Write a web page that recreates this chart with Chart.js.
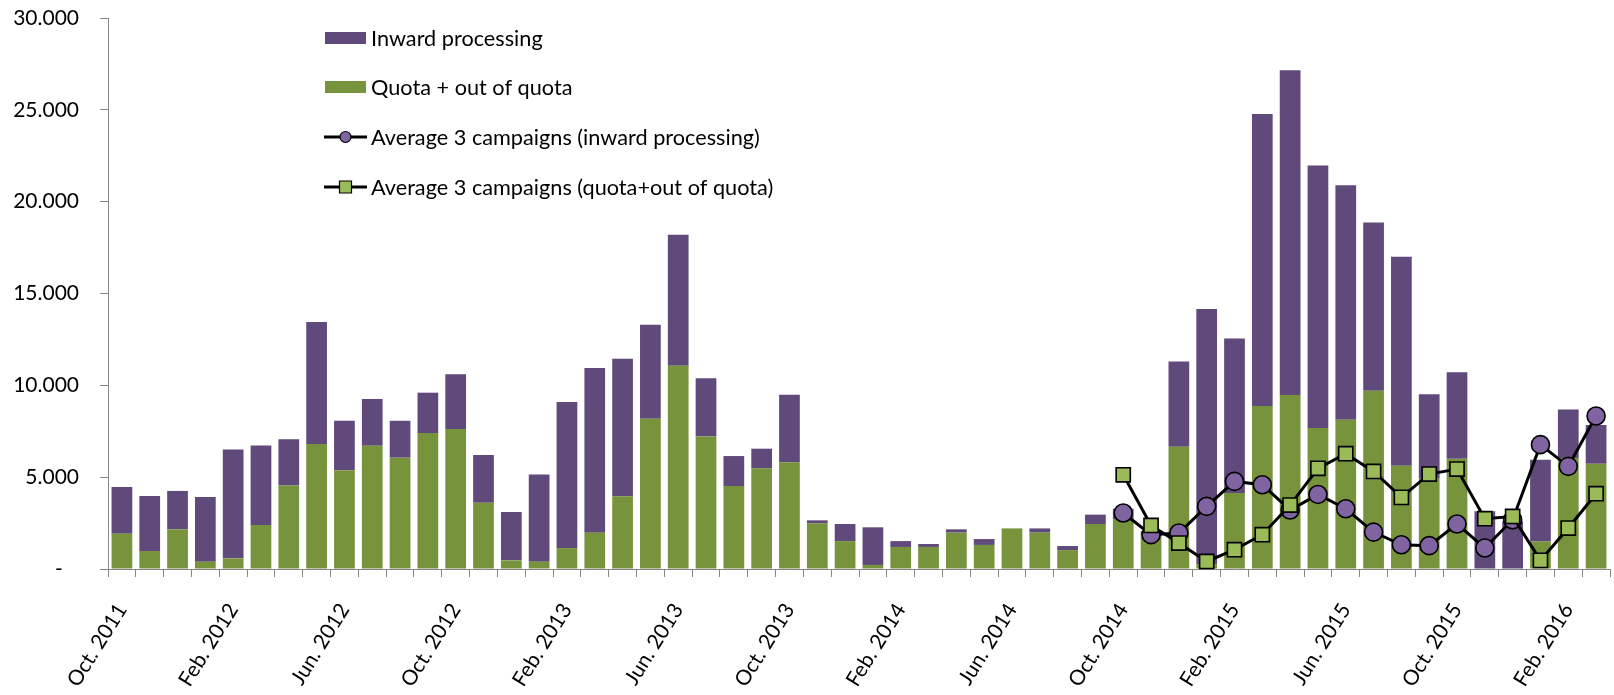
<!DOCTYPE html>
<html>
<head>
<meta charset="utf-8">
<script src="https://cdn.jsdelivr.net/npm/chart.js@4/dist/chart.umd.min.js"></script>
<style>
  html, body { margin: 0; padding: 0; background: #ffffff; }
  #wrap { width: 1614px; height: 695px; }
</style>
</head>
<body>
<div id="wrap"><canvas id="c" width="1614" height="695"></canvas></div>
<script>
// ---- Data ----
const categories = [
  "Oct. 2011","Nov. 2011","Dec. 2011",
  "Jan. 2012","Feb. 2012","Mar. 2012","Apr. 2012","May. 2012","Jun. 2012","Jul. 2012","Aug. 2012","Sep. 2012","Oct. 2012","Nov. 2012","Dec. 2012",
  "Jan. 2013","Feb. 2013","Mar. 2013","Apr. 2013","May. 2013","Jun. 2013","Jul. 2013","Aug. 2013","Sep. 2013","Oct. 2013","Nov. 2013","Dec. 2013",
  "Jan. 2014","Feb. 2014","Mar. 2014","Apr. 2014","May. 2014","Jun. 2014","Jul. 2014","Aug. 2014","Sep. 2014","Oct. 2014","Nov. 2014","Dec. 2014",
  "Jan. 2015","Feb. 2015","Mar. 2015","Apr. 2015","May. 2015","Jun. 2015","Jul. 2015","Aug. 2015","Sep. 2015","Oct. 2015","Nov. 2015","Dec. 2015",
  "Jan. 2016","Feb. 2016","Mar. 2016"
];

// Quota + out of quota (bottom of each stack)
const quotaValues = [
  1920, 980, 2160,
  400, 580, 2400, 4540, 6800, 5370, 6710, 6060, 7400, 7620, 3610, 470,
  400, 1140, 1980, 3960, 8180, 11070, 7220, 4520, 5480, 5810, 2490, 1520,
  220, 1200, 1200, 1980, 1310, 2210, 1980, 1030, 2450, 2720, 1900, 6660,
  250, 4140, 8870, 9470, 7680, 8130, 9710, 5620, 4950, 6000, 0, 0,
  1500, 6040, 5730
];

// Inward processing (stacked on top)
const inwardValues = [
  2540, 2990, 2090,
  3520, 5930, 4330, 2520, 6650, 2700, 2540, 2010, 2200, 2990, 2600, 2630,
  4740, 7950, 8960, 7490, 5120, 7130, 3160, 1630, 1070, 3680, 160, 930,
  2050, 320, 160, 180, 320, 0, 230, 220, 510, 560, 150, 4640,
  13900, 8410, 15900, 17680, 14290, 12760, 9160, 11380, 4560, 4710, 3140, 2600,
  4450, 2650, 2110
];

// Average 3 campaigns (inward processing) - from Oct. 2014
const avgInward = [
  null, null, null,
  null, null, null, null, null, null, null, null, null, null, null, null,
  null, null, null, null, null, null, null, null, null, null, null, null,
  null, null, null, null, null, null, null, null, null, 3050, 1870, 1960,
  3410, 4770, 4590, 3210, 4060, 3280, 2010, 1320, 1270, 2450, 1140, 2680,
  6770, 5590, 8330
];

// Average 3 campaigns (quota+out of quota) - from Oct. 2014
const avgQuota = [
  null, null, null,
  null, null, null, null, null, null, null, null, null, null, null, null,
  null, null, null, null, null, null, null, null, null, null, null, null,
  null, null, null, null, null, null, null, null, null, 5130, 2370, 1410,
  410, 1050, 1870, 3480, 5480, 6280, 5310, 3900, 5170, 5440, 2740, 2860,
  470, 2230, 4100
];

const yTicks = [0, 5000, 10000, 15000, 20000, 25000, 30000];
const yTickLabels = ["-", "5.000", "10.000", "15.000", "20.000", "25.000", "30.000"];

const seriesNames = [
  "Inward processing",
  "Quota + out of quota",
  "Average 3 campaigns (inward processing)",
  "Average 3 campaigns (quota+out of quota)"
];

// ---- Styles ----
const PURPLE = "#604A7B";
const GREEN = "#77933C";
const CIRCLE_FILL = "#8064A2";
const SQUARE_FILL = "#9BBB59";
const AXIS_GREY = "#868686";
const FONT = "Lato, 'Open Sans', sans-serif";

// Custom legend drawn inside the plot (top-left area), like the reference
const insideLegend = {
  id: "insideLegend",
  afterDraw(chart) {
    const ctx = chart.ctx;
    const items = [
      { ds: chart.data.datasets[3], type: "bar" },
      { ds: chart.data.datasets[2], type: "bar" },
      { ds: chart.data.datasets[1], type: "circle" },
      { ds: chart.data.datasets[0], type: "square" }
    ];
    const x0 = 324, x1 = 367, textX = 371;
    const rows = [38, 87, 137, 187];
    ctx.save();
    ctx.font = "21.7px " + FONT;
    ctx.textBaseline = "middle";
    ctx.textAlign = "left";
    items.forEach((it, i) => {
      const y = rows[i];
      if (it.type === "bar") {
        ctx.fillStyle = it.ds.backgroundColor;
        ctx.fillRect(x0 + 1, y - 6, x1 - x0 - 2, 12);
      } else {
        ctx.strokeStyle = "#000";
        ctx.lineWidth = 3;
        ctx.beginPath();
        ctx.moveTo(x0, y);
        ctx.lineTo(x1, y);
        ctx.stroke();
        ctx.lineWidth = 1.2;
        ctx.fillStyle = it.ds.pointBackgroundColor;
        ctx.beginPath();
        if (it.type === "circle") {
          ctx.arc((x0 + x1) / 2, y, 5.5, 0, Math.PI * 2);
        } else {
          ctx.rect((x0 + x1) / 2 - 6, y - 6, 12, 12);
        }
        ctx.fill();
        ctx.stroke();
      }
      ctx.fillStyle = "#000";
      ctx.fillText(it.ds.label, textX, y + 1);
    });
    ctx.restore();
  }
};

new Chart(document.getElementById("c"), {
  data: {
    labels: categories,
    datasets: [
      {
        type: "line",
        label: seriesNames[3],
        data: avgQuota,
        order: 0,
        stack: "lineQuota",
        borderColor: "#000",
        borderWidth: 3,
        tension: 0,
        spanGaps: false,
        pointStyle: "rect",
        pointRadius: 10,
        pointBackgroundColor: SQUARE_FILL,
        pointBorderColor: "#000",
        pointBorderWidth: 1.6,
        clip: false
      },
      {
        type: "line",
        label: seriesNames[2],
        data: avgInward,
        order: 1,
        stack: "lineInward",
        borderColor: "#000",
        borderWidth: 3,
        tension: 0,
        spanGaps: false,
        pointStyle: "circle",
        pointRadius: 9,
        pointBackgroundColor: CIRCLE_FILL,
        pointBorderColor: "#000",
        pointBorderWidth: 1.6,
        clip: false
      },
      {
        type: "bar",
        label: seriesNames[1],
        data: quotaValues,
        order: 2,
        backgroundColor: GREEN,
        borderWidth: 0,
        stack: "bars",
        barPercentage: 0.745,
        categoryPercentage: 1.0
      },
      {
        type: "bar",
        label: seriesNames[0],
        data: inwardValues,
        order: 2,
        backgroundColor: PURPLE,
        borderWidth: 0,
        stack: "bars",
        barPercentage: 0.745,
        categoryPercentage: 1.0
      }
    ]
  },
  options: {
    responsive: false,
    animation: false,
    events: [],
    layout: { padding: { top: 18, right: 4, left: 0, bottom: 0 }, autoPadding: false },
    plugins: {
      legend: { display: false },
      tooltip: { enabled: false },
      title: { display: false }
    },
    scales: {
      x: {
        stacked: true,
        offset: true,
        grid: {
          offset: true,
          drawOnChartArea: false,
          drawTicks: true,
          tickLength: 8,
          color: AXIS_GREY,
          lineWidth: 1
        },
        border: { display: true, color: AXIS_GREY, width: 1 },
        ticks: {
          autoSkip: false,
          minRotation: 58,
          maxRotation: 58,
          padding: 22,
          color: "#000",
          font: { family: FONT, size: 21 },
          callback: function (value, index) {
            return index % 4 === 0 ? categories[index] : "";
          }
        },
        afterFit: function (scale) {
          scale.height = 126;
          scale.paddingTop = 0; scale.paddingBottom = 0;
          scale.paddingLeft = 0; scale.paddingRight = 0;
        }
      },
      y: {
        stacked: true,
        min: 0,
        max: 30000,
        afterBuildTicks: function (scale) {
          scale.ticks = yTicks.map(v => ({ value: v }));
        },
        grid: {
          drawOnChartArea: false,
          drawTicks: true,
          tickLength: 8,
          color: AXIS_GREY,
          lineWidth: 1
        },
        border: { display: true, color: AXIS_GREY, width: 1 },
        ticks: {
          padding: 21,
          color: "#000",
          font: { family: FONT, size: 21 },
          callback: function (value) {
            const i = yTicks.indexOf(value);
            if (i === 0) return "-   ";
            return i >= 0 ? yTickLabels[i] : "";
          }
        },
        afterFit: function (scale) {
          scale.width = 108;
          scale.paddingTop = 0; scale.paddingBottom = 0;
        }
      }
    }
  },
  plugins: [insideLegend]
});
</script>
</body>
</html>
